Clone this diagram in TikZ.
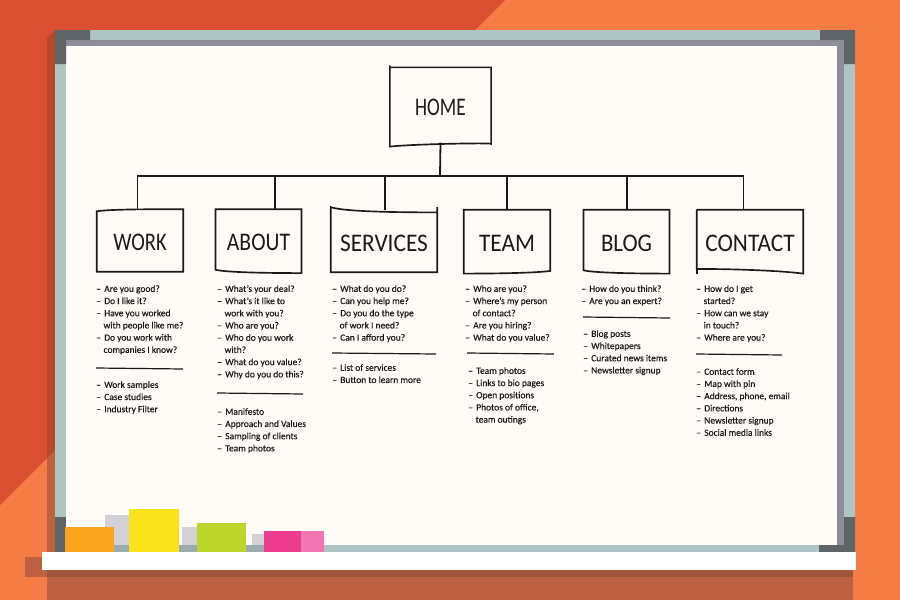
\documentclass[tikz,border=0pt]{standalone}
\usepackage{graphicx}
\usepackage{fontspec}
\setmainfont{Carlito}
\newfontfamily\listfont[FakeBold=0.35,Ligatures=TeX]{Carlito}
\definecolor{bgorange}{HTML}{F57C45}
\definecolor{bgred}{HTML}{D94F30}
\definecolor{shadowred}{HTML}{B5482F}
\definecolor{shadowa}{HTML}{BC6242}
\definecolor{shadowb}{HTML}{A0553D}
\definecolor{framelight}{HTML}{AFC4C4}
\definecolor{framegray}{HTML}{8E8E9A}
\definecolor{framedark}{HTML}{5F6468}
\definecolor{boardwhite}{HTML}{FFFCF8}
\definecolor{inkc}{HTML}{1A1A1A}
\definecolor{backnote}{HTML}{D2D2D6}
\definecolor{foot}{HTML}{9CABB0}
\definecolor{noteorange}{HTML}{FBA51F}
\definecolor{noteyellow}{HTML}{FBE31C}
\definecolor{notegreen}{HTML}{BBD52B}
\definecolor{notepink}{HTML}{EC3D8F}
\definecolor{notelpink}{HTML}{F075B0}
\tikzset{
  px/.style={x=0.75pt,y=-0.75pt},
  box/.style={inner sep=0pt,font=\fontsize{19}{20}\selectfont,text=inkc},
  outline/.style={draw=inkc,line width=1.25pt,line join=miter},
  conn/.style={draw=inkc,line width=1.35pt},
  rule/.style={draw=inkc,line width=0.9pt},
  listt/.style={anchor=north west,align=left,inner sep=0pt,text=inkc,font=\listfont\fontsize{7.1}{9.15}\selectfont},
}
\newcommand{\pane}[5]{\fill[#1] (#2,#3) rectangle (#4,#5);}
\newcommand{\itm}[1]{\makebox[6pt][l]{--}#1}
\newcommand{\hng}[1]{\hspace*{5.5pt}#1}
\newcommand{\hd}[2]{\raisebox{-3.6pt}[8pt][0pt]{\scalebox{#1}[1]{#2}}}
\begin{document}
\begin{tikzpicture}[px]
\useasboundingbox (0,0) rectangle (900,600);
\pane{bgorange}{0}{0}{900}{600}
\fill[bgred] (0,0) -- (505,0) -- (0,505) -- cycle;
% shadows
\pane{shadowa}{47}{448}{853}{600}
\fill[shadowred] (47,38) -- (55,30) -- (55,450) -- (47,458) -- cycle;
\pane{shadowa}{25}{557}{47}{577}
\pane{shadowb}{47}{570}{853}{577}
% frame
\pane{framelight}{55}{30}{855}{552}
\pane{framegray}{66}{40}{844}{546}
\pane{boardwhite}{66}{46}{837}{545}
\pane{framelight}{66}{545}{820}{552}
% corners
\fill[framedark] (55,30) -- (90,30) -- (90,40) -- (66,40) -- (66,64) -- (55,64) -- cycle;
\fill[framedark] (855,30) -- (820,30) -- (820,40) -- (844,40) -- (844,64) -- (855,64) -- cycle;
\fill[framedark] (55,517) rectangle (66,552);
\fill[framedark] (855,552) -- (819,552) -- (819,545) -- (844,545) -- (844,517) -- (855,517) -- cycle;
% tray items
\pane{backnote}{105}{515}{130}{545}
\pane{backnote}{182}{527}{197}{545}
\pane{backnote}{252}{534}{265}{545}
\pane{foot}{114}{545}{130}{552}
\pane{foot}{179}{545}{197}{552}
\pane{foot}{246}{545}{265}{552}
\pane{noteorange}{65}{527}{114}{552}
\pane{noteyellow}{129}{509}{179}{552}
\pane{notegreen}{197}{523}{246}{552}
\pane{notepink}{264}{531}{301}{552}
\pane{notelpink}{301}{531}{324}{552}
\pane{white}{42}{552}{856}{570}
% boxes: text nodes sized to the drawn outline
\node[box,minimum width=75.5pt,minimum height=56pt] (home) at (440.5,105) {\hd{0.76}{HOME}};
\node[box,minimum width=64.5pt,minimum height=46.5pt] (work) at (140,240.5) {\hd{0.81}{WORK}};
\node[box,minimum width=64pt,minimum height=46.5pt] (about) at (258.5,240.5) {\hd{0.855}{ABOUT}};
\node[box,minimum width=79.5pt,minimum height=46.5pt] (services) at (384,241) {\hd{0.92}{SERVICES}};
\node[box,minimum width=64.5pt,minimum height=46.5pt] (team) at (507,241) {\hd{0.92}{TEAM}};
\node[box,minimum width=64pt,minimum height=46.5pt] (blog) at (626.5,241) {\hd{0.9}{BLOG}};
\node[box,minimum width=79.5pt,minimum height=46.5pt] (contact) at (750,241) {\hd{0.92}{CONTACT}};
% hand-drawn outlines
\draw[outline] ([yshift=1.5pt]home.north west) -- ([yshift=-3pt]home.south west) .. controls ([xshift=18pt,yshift=-1pt]home.south west) and ([xshift=40pt]home.south) .. ([yshift=-1pt]home.south east) -- (home.north east) -- (home.north west);
\draw[outline] ([yshift=-1.5pt]work.north west) .. controls ([xshift=12pt]work.north west) and ([xshift=-30pt]work.north east) .. (work.north east) -- (work.south east) -- (work.south west) -- cycle;
\draw[outline] (about.north west) -- (about.north east) -- ([yshift=-1pt]about.south east) .. controls ([xshift=-25pt,yshift=-1pt]about.south east) and ([xshift=8pt,yshift=-0.5pt]about.south west) .. ([yshift=1.5pt]about.south west) -- cycle;
\draw[outline] ([yshift=2pt]services.north west) .. controls ([xshift=8pt,yshift=-1pt]services.north west) and ([xshift=-40pt,yshift=-2pt]services.north east) .. ([yshift=-2pt]services.north east) -- ([yshift=2pt]services.north east) -- (services.south east) -- (services.south west) -- cycle;
\draw[outline] (team.north west) -- (team.north east) -- ([yshift=1pt]team.south east) .. controls ([xshift=-15pt,yshift=-1pt]team.south east) and ([xshift=-25pt,yshift=-1pt]team.south) .. ([yshift=-1pt]team.south west) -- cycle;
\draw[outline] (blog.north west) -- (blog.north east) -- ([yshift=-1pt]blog.south east) .. controls ([xshift=-25pt,yshift=-1pt]blog.south east) and ([xshift=8pt,yshift=-0.5pt]blog.south west) .. ([yshift=1.5pt]blog.south west) -- cycle;
\draw[outline] (contact.north west) -- (contact.north east) -- ([yshift=-1pt]contact.south east) .. controls ([xshift=-20pt,yshift=1.5pt]contact.south east) and ([xshift=-15pt,yshift=2.5pt]contact.south) .. ([yshift=2.5pt]contact.south west) -- (contact.north west);
\draw[outline] ([yshift=-1.5pt]contact.south west) -- ([yshift=2.5pt]contact.south west);
% connectors
\coordinate (busl) at (137.5,176);
\coordinate (busr) at (743.5,176);
\coordinate (bus) at (440,176);
\draw[conn] (home.south) -- (bus);
\draw[conn] ([xshift=-0.6pt]busl) -- ([xshift=0.6pt]busr);
\draw[conn] (busl) -- (busl |- work.north);
\draw[conn] ([xshift=12.4pt]about.north) -- ([xshift=12.4pt]about.north |- bus);
\draw[conn] ([xshift=1pt]services.north) -- ([xshift=1pt]services.north |- bus);
\draw[conn] (team.north) -- (team.north |- bus);
\draw[conn] ([xshift=0.3pt]blog.north) -- ([xshift=0.3pt]blog.north |- bus);
\draw[conn] (busr) -- (busr |- contact.north);
% lists
\node[listt] (w1) at (96,285) {\itm{Are you good?}\\\itm{Do I like it?}\\\itm{Have you worked}\\\hng{with people like me?}\\\itm{Do you work with}\\\hng{companies I know?}};
\draw[rule] (96,368) -- (183,369);
\node[listt] (w2) at (96,381) {\itm{Work samples}\\\itm{Case studies}\\\itm{Industry Filter}};
\node[listt] (a1) at (217,285) {\itm{What's your deal?}\\\itm{What's it like to}\\\hng{work with you?}\\\itm{Who are you?}\\\itm{Who do you work}\\\hng{with?}\\\itm{What do you value?}\\\itm{Why do you do this?}};
\draw[rule] (217,393) -- (303,394);
\node[listt] (a2) at (217,408) {\itm{Manifesto}\\\itm{Approach and Values}\\\itm{Sampling of clients}\\\itm{Team photos}};
\node[listt] (s1) at (332,285) {\itm{What do you do?}\\\itm{Can you help me?}\\\itm{Do you do the type}\\\hng{of work I need?}\\\itm{Can I afford you?}};
\draw[rule] (332,353) -- (436,354);
\node[listt] (s2) at (332,364) {\itm{List of services}\\\itm{Button to learn more}};
\node[listt] (t1) at (465,285) {\itm{Who are you?}\\\itm{Where's my person}\\\hng{of contact?}\\\itm{Are you hiring?}\\\itm{What do you value?}};
\draw[rule] (467,353) -- (554,354);
\node[listt] (t2) at (468,367) {\itm{Team photos}\\\itm{Links to bio pages}\\\itm{Open positions}\\\itm{Photos of office,}\\\hng{team outings}};
\node[listt] (b1) at (581,285) {\itm{How do you think?}\\\itm{Are you an expert?}};
\draw[rule] (583,317) -- (670,318);
\node[listt] (b2) at (583,330) {\itm{Blog posts}\\\itm{Whitepapers}\\\itm{Curated news items}\\\itm{Newsletter signup}};
\node[listt] (c1) at (696,285) {\itm{How do I get}\\\hng{started?}\\\itm{How can we stay}\\\hng{in touch?}\\\itm{Where are you?}};
\draw[rule] (696,354) -- (782,355);
\node[listt] (c2) at (696,368) {\itm{Contact form}\\\itm{Map with pin}\\\itm{Address, phone, email}\\\itm{Directions}\\\itm{Newsletter signup}\\\itm{Social media links}};
\end{tikzpicture}
\end{document}
